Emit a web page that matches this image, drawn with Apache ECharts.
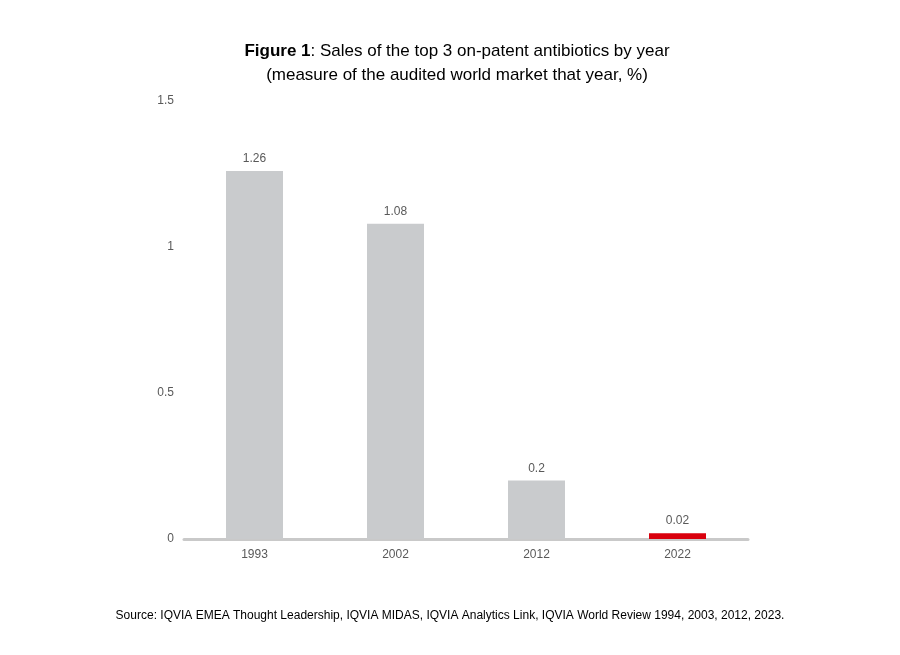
<!DOCTYPE html>
<html><head><meta charset="utf-8">
<script src="https://cdn.jsdelivr.net/npm/echarts@6/dist/echarts.min.js"></script>
<style>html,body{margin:0;background:#fff}#c{width:900px;height:655px}</style>
</head><body><div id="c"></div>
<script>
const categories = ['1993', '2002', '2012', '2022'];
const values = [1.26, 1.08, 0.2, 0.02];
const yTicks = [0, 0.5, 1, 1.5];
const barColors = ['#c9cbcd', '#c9cbcd', '#c9cbcd', '#d9000d'];

const chart = echarts.init(document.getElementById('c'));
chart.setOption({
  backgroundColor: '#fff',
  textStyle: { fontFamily: 'Arial, "Liberation Sans", sans-serif' },
  title: {
    left: 452, top: 34, textAlign: 'center',
    text: '{b|Figure 1}{n|: Sales of the top 3 on-patent antibiotics by year}\n{n|(measure of the audited world market that year, %)}',
    textStyle: {
      fontWeight: 'normal', fontSize: 17,
      lineHeight: 24,
      rich: {
        b: { fontSize: 17, fontWeight: 'bold', color: '#000', fontFamily: 'Arial, "Liberation Sans"' },
        n: { fontSize: 17, fontWeight: 'normal', color: '#000', fontFamily: 'Arial, "Liberation Sans"' }
      }
    }
  },
  graphic: [{
    type: 'text', left: 'center', top: 610,
    style: { text: 'Source: IQVIA EMEA Thought Leadership, IQVIA MIDAS, IQVIA Analytics Link, IQVIA World Review 1994, 2003, 2012, 2023.',
      fontSize: 12, fill: '#000', fontFamily: '"Liberation Sans Narrow", Arial' }
  }],
  grid: { left: 184, right: 152, top: 101, bottom: 116 },
  xAxis: {
    type: 'category', data: categories,
    axisLine: { lineStyle: { color: '#c9c9c9', width: 3 } },
    axisTick: { show: false },
    axisLabel: { color: '#595959', fontSize: 12, margin: 10 }
  },
  yAxis: {
    type: 'value', min: 0, max: 1.5, interval: 0.5,
    splitLine: { show: false }, axisLine: { show: false }, axisTick: { show: false },
    axisLabel: { color: '#595959', fontSize: 12, margin: 10, formatter: v => yTicks.includes(v) ? String(v) : '' }
  },
  series: [{
    type: 'bar', barWidth: 57,
    data: values.map((v, i) => ({ value: v, itemStyle: { color: barColors[i] } })),
    label: { show: true, position: 'top', color: '#595959', fontSize: 12, distance: 6 }
  }]
});
</script></body></html>
